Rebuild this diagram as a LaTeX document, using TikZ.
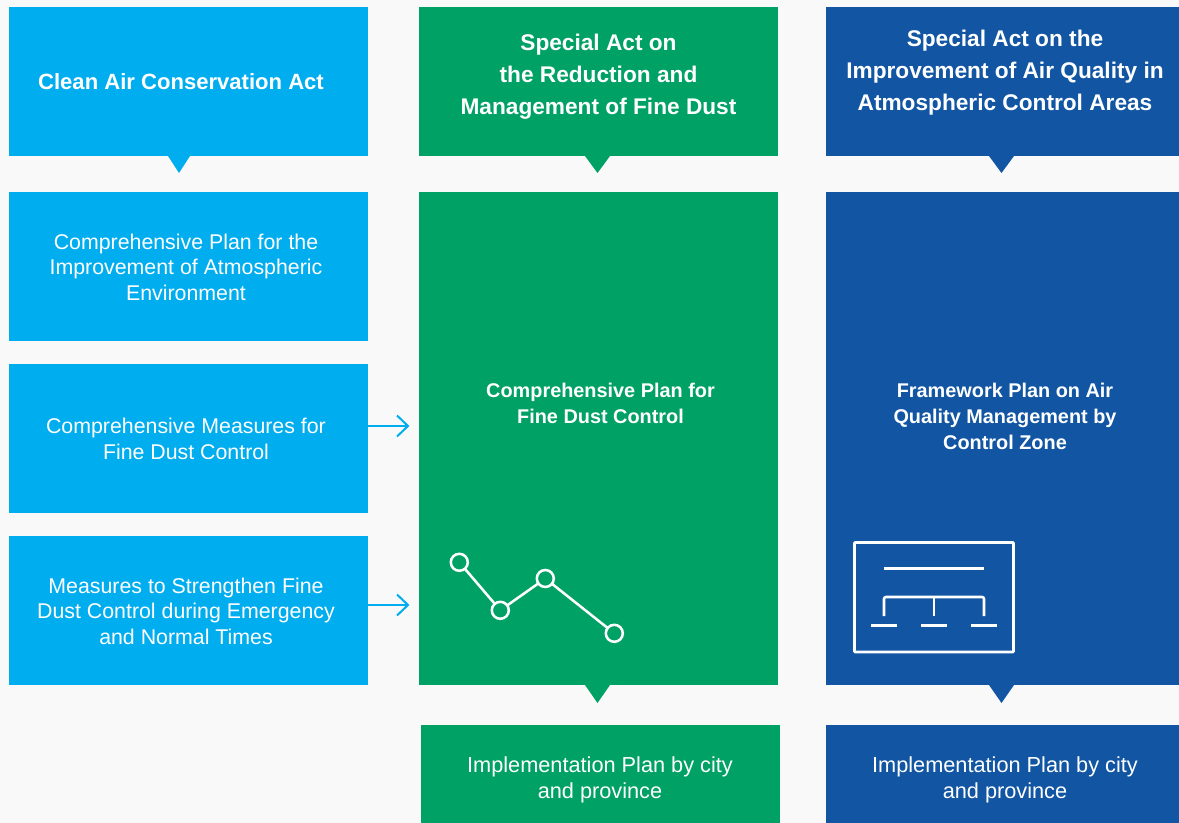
\documentclass[tikz,border=0pt]{standalone}
\usepackage{fontspec}
\setmainfont{Liberation Sans}
\definecolor{bgc}{HTML}{F9F9F9}
\definecolor{cy}{HTML}{00ADEF}
\definecolor{gr}{HTML}{00A164}
\definecolor{bl}{HTML}{1155A3}
\newcommand{\pxbox}[6]{\node[boxn,fill=#6,minimum width=#4*0.75pt,minimum height=#5*0.75pt,anchor=north west] (#1) at (#2,#3) {};}
\tikzset{
 boxn/.style={inner sep=0pt,outer sep=0pt,draw=none},
 ttl/.style={text=white,align=center,font=\fontsize{16.55pt}{24pt}\selectfont\bfseries},
 ttlb/.style={text=white,align=center,font=\fontsize{17pt}{24pt}\selectfont\bfseries},
 bod/.style={text=white,align=center,font=\fontsize{16pt}{19.2pt}\selectfont},
 bot/.style={text=white,align=center,font=\fontsize{16.3pt}{19.6pt}\selectfont},
 sub/.style={text=white,align=center,font=\fontsize{14.9pt}{19.6pt}\selectfont\bfseries},
 ico/.style={draw=white,line width=1.9pt},
 dot/.style={circle,draw=white,line width=1.9pt,minimum size=17*0.75pt,inner sep=0pt,outer sep=0pt},
 arr/.style={draw=cy,line width=1.5pt},
}
\begin{document}
\begin{tikzpicture}[x=0.75pt,y=-0.75pt]
\useasboundingbox (0,0) rectangle (1179,823);
\fill[bgc] (0,0) rectangle (1179,823);
% boxes
\pxbox{a0}{9}{7}{359}{149}{cy}
\pxbox{b0}{419}{7}{359}{149}{gr}
\pxbox{c0}{826}{7}{353}{149}{bl}
\pxbox{a1}{9}{192}{359}{149}{cy}
\pxbox{a2}{9}{364}{359}{149}{cy}
\pxbox{a3}{9}{536}{359}{149}{cy}
\pxbox{b1}{419}{192}{359}{493}{gr}
\pxbox{c1}{826}{192}{353}{493}{bl}
\pxbox{b2}{421}{725}{359}{98}{gr}
\pxbox{c2}{826}{725}{353}{98}{bl}
% pointers
\fill[cy] (168,156) -- (190,156) -- (179,173) -- cycle;
\fill[gr] (585,156) -- (610,156) -- (597.5,173) -- cycle;
\fill[bl] (989,156) -- (1014,156) -- (1001.5,173) -- cycle;
\fill[gr] (585,685) -- (610,685) -- (597.5,703) -- cycle;
\fill[bl] (989,685) -- (1014,685) -- (1001.5,703) -- cycle;
% texts
\node[ttl] (ta0) at (181,81.5) {Clean Air Conservation Act};
\node[ttlb] (tb0) at (598.5,76.5) {Special Act on\\the Reduction and\\Management of Fine Dust};
\node[ttlb] (tc0) at (1005,72.5) {Special Act on the\\Improvement of Air Quality in\\Atmospheric Control Areas};
\node[bod] (ta1) at (186,267) {Comprehensive Plan for the\\Improvement of Atmospheric\\Environment};
\node[bod] (ta2) at (186,439) {Comprehensive Measures for\\Fine Dust Control};
\node[bod] (ta3) at (186,611) {Measures to Strengthen Fine\\Dust Control during Emergency\\and Normal Times};
\node[sub] (tb1) at (600.5,403.5) {Comprehensive Plan for\\Fine Dust Control};
\node[sub] (tc1) at (1005,416.5) {Framework Plan on Air\\Quality Management by\\Control Zone};
\node[bot] (tb2) at (600,779.5) {Implementation Plan by city\\and province};
\node[bot] (tc2) at (1005,779.5) {Implementation Plan by city\\and province};
% arrows
\coordinate (e2) at (408,426);
\coordinate (e3) at (408,605);
\draw[arr] (a2.east |- e2) -- (e2);
\draw[arr,line join=miter] (397,415.5) -- (e2) -- (397,436.5);
\draw[arr] (a3.east |- e3) -- (e3);
\draw[arr,line join=miter] (397,594.5) -- (e3) -- (397,615.5);
% line chart icon
\node[dot] (p1) at (459.3,562.3) {};
\node[dot] (p2) at (500.3,610.3) {};
\node[dot] (p3) at (545.3,578.5) {};
\node[dot] (p4) at (614.3,633.3) {};
\draw[ico] (p1) -- (p2);
\draw[ico] (p2) -- (p3);
\draw[ico] (p3) -- (p4);
% organisation icon
\draw[ico,rounded corners=0.5pt] (854.5,542.5) rectangle (1013.5,652);
\draw[ico] (884,568.5) -- (984,568.5);
\draw[ico,rounded corners=1.5pt] (884,616) -- (884,597) -- (984,597) -- (984,616);
\draw[ico] (934,597) -- (934,616);
\draw[ico] (871,625.5) -- (896.5,625.5);
\draw[ico] (921,625.5) -- (946.5,625.5);
\draw[ico] (971,625.5) -- (996.5,625.5);
\end{tikzpicture}
\end{document}
